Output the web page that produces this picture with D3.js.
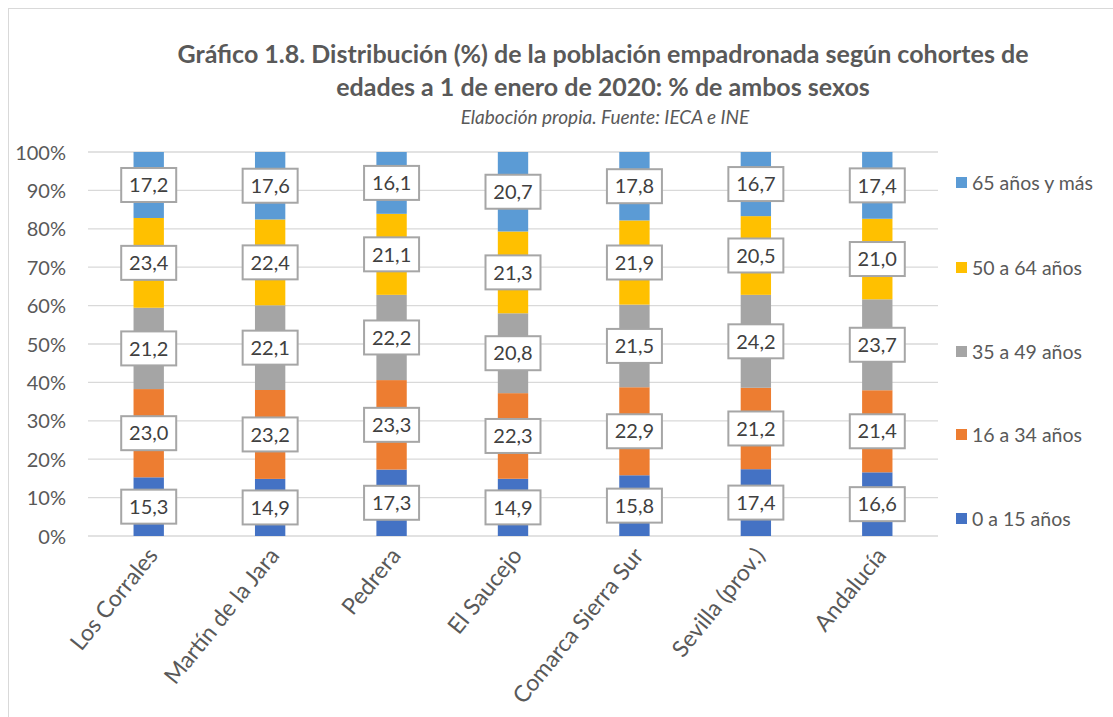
<!DOCTYPE html>
<html><head><meta charset="utf-8">
<script src="https://cdn.jsdelivr.net/npm/d3@7"></script>
<style>body{margin:0;background:#fff;} text{font-family:Lato, "Liberation Sans", sans-serif;}</style>
</head><body>
<svg id="c" width="1113" height="717"></svg>
<script>
const categories = ["Los Corrales","Martín de la Jara","Pedrera","El Saucejo","Comarca Sierra Sur","Sevilla (prov.)","Andalucía"];
const seriesNames = ["0 a 15 años","16 a 34 años","35 a 49 años","50 a 64 años","65 años y más"];
const s0_15  = [15.3,14.9,17.3,14.9,15.8,17.4,16.6];
const s16_34 = [23.0,23.2,23.3,22.3,22.9,21.2,21.4];
const s35_49 = [21.2,22.1,22.2,20.8,21.5,24.2,23.7];
const s50_64 = [23.4,22.4,21.1,21.3,21.9,20.5,21.0];
const s65    = [17.2,17.6,16.1,20.7,17.8,16.7,17.4];
const yTicks = [0,0.1,0.2,0.3,0.4,0.5,0.6,0.7,0.8,0.9,1.0];
const colors = ["#4472c4","#ed7d31","#a5a5a5","#ffc000","#5b9bd5"];

const seriesVals = [s0_15,s16_34,s35_49,s50_64,s65];
const table = categories.map((c,i)=>{const o={cat:c}; seriesNames.forEach((s,j)=>o[s]=seriesVals[j][i]); return o;});
const stack = d3.stack().keys(seriesNames).offset(d3.stackOffsetExpand)(table);

const svg = d3.select("#c");
svg.append("rect").attr("x",8.5).attr("y",8.5).attr("width",1120).attr("height",720).attr("fill","#fff").attr("stroke","#d9d9d9");

const x = d3.scaleBand().domain(categories).range([88,938]).paddingInner(0.75).paddingOuter(0.375);
const y = d3.scaleLinear().domain([0,1]).range([536,152]);

// gridlines
svg.append("g").selectAll("line").data(yTicks).join("line")
  .attr("x1",88).attr("x2",938).attr("y1",d=>y(d)).attr("y2",d=>y(d))
  .attr("stroke","#d9d9d9").attr("stroke-width",1.3);

// y axis
const yAxis = d3.axisLeft(y).tickValues(yTicks).tickFormat(d3.format(".0%")).tickSize(0).tickPadding(0);
const ya = svg.append("g").attr("transform","translate(66,0)").call(yAxis);
ya.select(".domain").remove();
ya.selectAll("text").attr("fill","#595959").style("font-size","20px").attr("dy","0.35em");

// bars
const g = svg.append("g");
stack.forEach((layer,j)=>{
  g.selectAll(null).data(layer).join("rect")
    .attr("x",d=>x(d.data.cat)).attr("width",x.bandwidth())
    .attr("y",d=>y(d[1])).attr("height",d=>y(d[0])-y(d[1]))
    .attr("fill",colors[j]);
});

// labels
const fmt = v=>d3.format(".1f")(v).replace(".",",");
stack.forEach((layer,j)=>{
  const lg = svg.append("g").selectAll("g").data(layer).join("g")
    .attr("transform",d=>`translate(${x(d.data.cat)+x.bandwidth()/2},${(y(d[0])+y(d[1]))/2})`);
  lg.append("rect").attr("x",-27.5).attr("y",-17).attr("width",55).attr("height",34)
    .attr("fill","#fff").attr("stroke","#a6a6a6").attr("stroke-width",2);
  lg.append("text").attr("text-anchor","middle").attr("dy","0.36em")
    .attr("fill","#404040").style("font-size","20px")
    .text(d=>fmt(d.data[seriesNames[j]]));
});

// x axis labels
const xa = svg.append("g").attr("transform","translate(0,536)").call(d3.axisBottom(x).tickSize(0).tickPadding(0));
xa.select(".domain").remove();
xa.selectAll("text").attr("fill","#595959").style("font-size","23px")
  .attr("text-anchor","end").attr("transform","translate(4,15) rotate(-51)").attr("dy","0.35em").attr("y",0);

// legend
const legY = [183,268,352,435,519];
const lgd = svg.append("g");
[4,3,2,1,0].forEach((j,i)=>{
  lgd.append("rect").attr("x",956).attr("y",legY[i]-6).attr("width",11).attr("height",11).attr("fill",colors[j]);
  lgd.append("text").attr("x",972).attr("y",legY[i]).attr("dy","0.35em").attr("fill","#595959").style("font-size","19.5px").text(seriesNames[j]);
});

// title
svg.append("text").attr("x",603).attr("y",63).attr("text-anchor","middle").attr("fill","#595959")
  .style("font-size","25px").style("font-weight","bold").text("Gráfico 1.8. Distribución (%) de la población empadronada según cohortes de");
svg.append("text").attr("x",603).attr("y",96).attr("text-anchor","middle").attr("fill","#595959")
  .style("font-size","25px").style("font-weight","bold").text("edades a 1 de enero de 2020: % de ambos sexos");
svg.append("text").attr("x",605).attr("y",124).attr("text-anchor","middle").attr("fill","#595959")
  .style("font-size","19px").style("font-style","italic").text("Elaboción propia. Fuente: IECA e INE");
</script>
</body></html>
